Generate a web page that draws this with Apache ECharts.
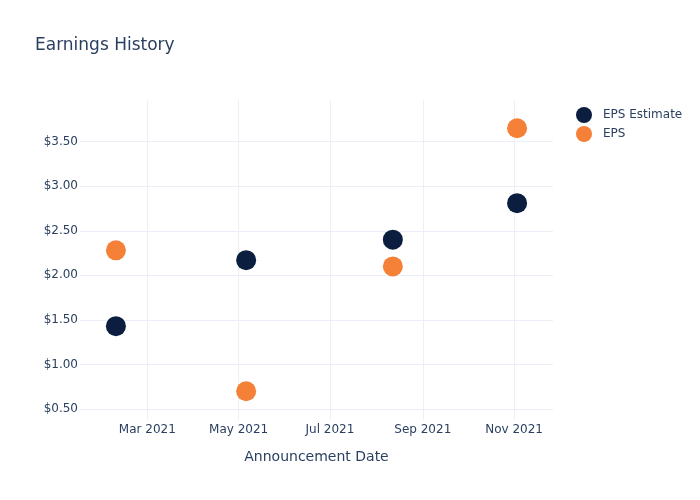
<!DOCTYPE html>
<html>
<head>
<meta charset="utf-8">
<script src="https://cdn.jsdelivr.net/npm/echarts@6/dist/echarts.min.js"></script>
<style>html,body{margin:0;padding:0;background:#fff}#c{width:700px;height:500px}</style>
</head>
<body>
<div id="c"></div>
<script>
const dates = ['2021-02-08', '2021-05-06', '2021-08-12', '2021-11-03'];
const epsEstimate = [1.43, 2.17, 2.40, 2.81];
const eps = [2.28, 0.70, 2.10, 3.65];
const xTickDates = ['2021-03-01', '2021-05-01', '2021-07-01', '2021-09-01', '2021-11-01'];
const yTicks = [0.5, 1.0, 1.5, 2.0, 2.5, 3.0, 3.5];
const xRange = ['2021-01-15', '2021-11-27'];
const yRange = [0.377, 3.967];
const monthNames = ['Jan','Feb','Mar','Apr','May','Jun','Jul','Aug','Sep','Oct','Nov','Dec'];

const t = s => Date.parse(s + 'T00:00:00Z');
const font = '"DejaVu Sans", verdana, arial, sans-serif';
const textColor = '#2a3f5f';
const gridColor = '#ebf0f8';

const chart = echarts.init(document.getElementById('c'));
chart.setOption({
  animation: false,
  backgroundColor: '#fff',
  title: {
    text: 'Earnings History',
    left: 30, top: 32,
    textStyle: { fontFamily: font, fontSize: 17, fontWeight: 'normal', color: textColor }
  },
  legend: {
    orient: 'vertical',
    left: 571, top: 102,
    itemWidth: 16, itemHeight: 16, itemGap: 3,
    icon: 'circle',
    textStyle: { fontFamily: font, fontSize: 12, color: textColor, padding: [0, 0, 0, 6] },
    data: ['EPS Estimate', 'EPS']
  },
  grid: { left: 80, right: 147, top: 100, bottom: 80, containLabel: false },
  xAxis: {
    type: 'value',
    min: t(xRange[0]), max: t(xRange[1]),
    name: 'Announcement Date',
    nameLocation: 'middle',
    nameGap: 30,
    nameTextStyle: { fontFamily: font, fontSize: 14, color: textColor },
    axisLine: { show: false },
    axisTick: { show: false, customValues: xTickDates.map(t) },
    axisLabel: {
      customValues: xTickDates.map(t),
      margin: 4,
      fontFamily: font, fontSize: 12, color: textColor,
      formatter: v => { const d = new Date(v); return monthNames[d.getUTCMonth()] + ' ' + d.getUTCFullYear(); }
    },
    splitLine: { show: true, lineStyle: { color: gridColor, width: 1 } }
  },
  yAxis: {
    type: 'value',
    min: yRange[0], max: yRange[1],
    axisLine: { show: false },
    axisTick: { show: false, customValues: yTicks },
    axisLabel: {
      customValues: yTicks,
      margin: 2,
      fontFamily: font, fontSize: 12, color: textColor,
      formatter: v => '$' + v.toFixed(2)
    },
    splitLine: { show: true, lineStyle: { color: gridColor, width: 1 } }
  },
  series: [
    {
      name: 'EPS Estimate', type: 'scatter', symbolSize: 20,
      itemStyle: { color: '#0b1e3f', opacity: 1 },
      data: dates.map((d, i) => [t(d), epsEstimate[i]])
    },
    {
      name: 'EPS', type: 'scatter', symbolSize: 20,
      itemStyle: { color: '#f58038', opacity: 1 },
      data: dates.map((d, i) => [t(d), eps[i]])
    }
  ]
});
</script>
</body>
</html>
